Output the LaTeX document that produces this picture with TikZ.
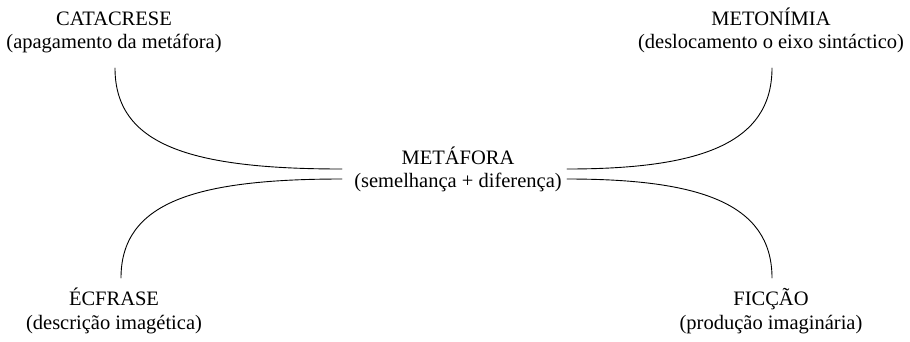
\documentclass[tikz,border=0pt]{standalone}
\usepackage{fontspec}
\setmainfont{Liberation Serif}
\begin{document}
\begin{tikzpicture}[x=1pt, y=-1pt,
  lbl/.style={inner sep=0pt, anchor=base, font=\fontsize{20.5}{25}\selectfont},
  link/.style={line width=0.9pt, line cap=round}]
\useasboundingbox (0,0) rectangle (910,341);

% labels
\node[lbl] (cat)  at (114,25)  {CATACRESE};
\node[lbl] (catS) at (114,48)  {(apagamento da metáfora)};
\node[lbl] (met)  at (771,25)  {METONÍMIA};
\node[lbl] (metS) at (771,48)  {(deslocamento o eixo sintáctico)};
\node[lbl] (mf)   at (458,164) {METÁFORA};
\node[lbl] (mfS)  at (458,187) {(semelhança + diferença)};
\node[lbl] (ecf)  at (114,305) {ÉCFRASE};
\node[lbl] (ecfS) at (114,329) {(descrição imagética)};
\node[lbl] (fic)  at (771,305) {FICÇÃO};
\node[lbl] (ficS) at (771,329) {(produção imaginária)};

% curve end points
\coordinate (a1) at (115,68);
\coordinate (a2) at (342,169);
\coordinate (b1) at (772,68);
\coordinate (b2) at (567,169);
\coordinate (c1) at (121,278);
\coordinate (c2) at (342,179);
\coordinate (d1) at (772,278);
\coordinate (d2) at (567,179);

\draw[link] (a1) .. controls (115,145) and (190,169) .. (a2);
\draw[link] (b1) .. controls (772,145) and (697,169) .. (b2);
\draw[link] (c1) .. controls (121,202) and (196,179) .. (c2);
\draw[link] (d1) .. controls (772,202) and (697,179) .. (d2);
\end{tikzpicture}
\end{document}
